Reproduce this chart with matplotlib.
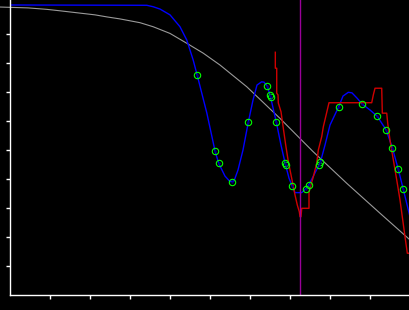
import matplotlib
matplotlib.use("Agg")
import matplotlib.pyplot as plt

# smooth model curve (blue)
blue_x = [0.0, 3.42, 3.58, 3.75, 4.0, 4.25, 4.42, 4.58, 4.68, 4.92, 5.125, 5.217,
          5.375, 5.5, 5.6, 5.7, 5.825, 5.958, 6.075, 6.175, 6.29, 6.35, 6.433,
          6.508, 6.658, 6.775, 6.883, 6.975, 7.058, 7.125, 7.293, 7.4, 7.467,
          7.625, 7.758, 7.875, 8.0, 8.217, 8.325, 8.458, 8.55, 8.675, 8.808,
          9.0, 9.183, 9.408, 9.558, 9.708, 9.833, 10.0]
blue_y = [1.0, 0.999, 0.994, 0.986, 0.966, 0.925, 0.879, 0.810, 0.758, 0.628, 0.497, 0.454,
          0.410, 0.391, 0.393, 0.431, 0.500, 0.596, 0.672, 0.724, 0.735, 0.734, 0.720,
          0.686, 0.596, 0.517, 0.452, 0.403, 0.375, 0.353, 0.353, 0.367, 0.379,
          0.421, 0.457, 0.517, 0.586, 0.649, 0.686, 0.699, 0.697, 0.679, 0.658,
          0.638, 0.616, 0.568, 0.508, 0.433, 0.364, 0.270]

# stepped estimate (red)
red_x = [6.633, 6.633, 6.668, 6.668, 6.70, 6.708, 6.775, 6.833, 6.893, 6.958, 7.043,
         7.125, 7.183, 7.233, 7.25, 7.275, 7.293, 7.475, 7.475, 7.583, 7.668, 7.708,
         7.793, 7.833, 7.893, 7.975, 9.043, 9.083, 9.125, 9.293, 9.308, 9.418, 9.443,
         9.5, 9.583, 9.668, 9.75, 9.818, 9.875, 9.933, 9.96]
red_y = [0.837, 0.782, 0.782, 0.696, 0.690, 0.662, 0.632, 0.575, 0.517, 0.460, 0.402,
         0.345, 0.310, 0.287, 0.270, 0.270, 0.299, 0.299, 0.356, 0.408, 0.454, 0.500,
         0.546, 0.580, 0.615, 0.663, 0.663, 0.690, 0.713, 0.713, 0.627, 0.627, 0.592,
         0.534, 0.466, 0.397, 0.328, 0.259, 0.201, 0.144, 0.144]

# slow trend (gray)
gray_x = [-0.25, 0.45, 0.92, 1.25, 1.75, 2.125, 2.42, 2.75, 3.25, 3.58, 4.0, 4.42,
          4.83, 5.25, 5.92, 6.75, 7.58, 8.42, 9.25, 10.0]
gray_y = [0.993, 0.990, 0.985, 0.980, 0.972, 0.966, 0.959, 0.952, 0.939, 0.925, 0.902,
          0.868, 0.834, 0.793, 0.718, 0.609, 0.494, 0.385, 0.282, 0.190]

# sampled points (green circles)
pts_x = [4.683, 5.133, 5.217, 5.558, 5.958, 6.433, 6.49, 6.53, 6.658, 6.87, 6.89,
         7.058, 7.4, 7.467, 7.733, 7.758, 8.217, 8.808, 9.183, 9.408, 9.558, 9.708, 9.833]
pts_y = [0.758, 0.496, 0.454, 0.388, 0.596, 0.720, 0.689, 0.682, 0.596, 0.455, 0.449,
         0.375, 0.367, 0.379, 0.447, 0.457, 0.649, 0.657, 0.616, 0.568, 0.508, 0.433, 0.364]

marker_x = 7.258

fig = plt.figure(figsize=(4.1, 3.1), dpi=100, facecolor="black")
ax = fig.add_axes([10/410, 15/310, 400/410, 295/310])
ax.set_facecolor("black")

ax.plot(gray_x, gray_y, color="#9a9a9a", lw=0.8, clip_on=False)
ax.plot(blue_x, blue_y, color="#0000ff", lw=1.0)
ax.plot(red_x, red_y, color="#d00000", lw=1.0)
ax.axvline(marker_x, color="#990099", lw=1.0)
ax.plot(pts_x, pts_y, "o", ms=4.6, mfc="none", mec="#00ff00", mew=0.8)
ax.plot(pts_x, pts_y, ".", ms=1.5, color="#000080")

ax.set_xlim(0, 10)
ax.set_ylim(0, 295/290)
ax.set_xticks(range(1, 10))
ax.set_yticks([i/10 for i in range(1, 10)])
ax.set_xticklabels([])
ax.set_yticklabels([])
ax.tick_params(colors="white", length=3, width=1)
for s in ["top", "right"]:
    ax.spines[s].set_visible(False)
for s in ["left", "bottom"]:
    ax.spines[s].set_color("white")
    ax.spines[s].set_linewidth(1.0)

fig.savefig("out.png", dpi=100, facecolor="black")
